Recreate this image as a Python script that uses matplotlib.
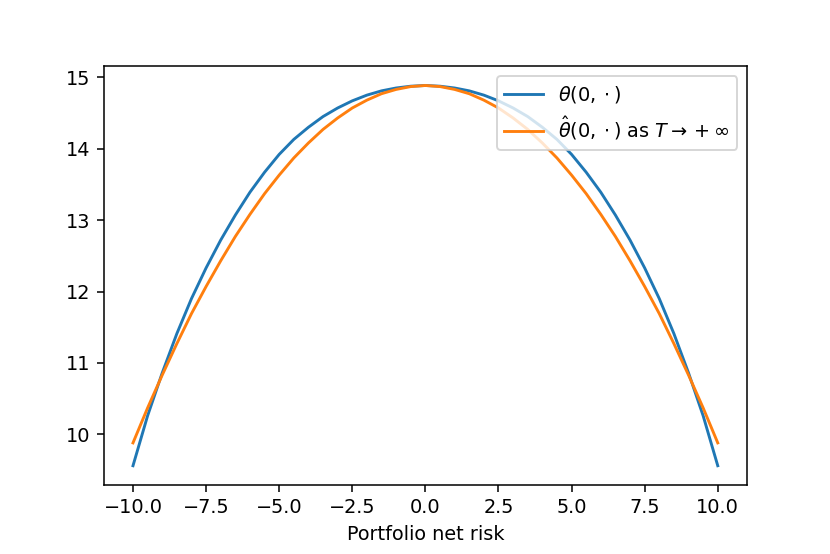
import numpy as np
import matplotlib
matplotlib.use("Agg")
import matplotlib.pyplot as plt

# net risk grid (every 0.5)
net_risk = [-10.0, -9.5, -9.0, -8.5, -8.0, -7.5, -7.0, -6.5, -6.0, -5.5, -5.0,
            -4.5, -4.0, -3.5, -3.0, -2.5, -2.0, -1.5, -1.0, -0.5, 0.0,
            0.5, 1.0, 1.5, 2.0, 2.5, 3.0, 3.5, 4.0, 4.5, 5.0,
            5.5, 6.0, 6.5, 7.0, 7.5, 8.0, 8.5, 9.0, 9.5, 10.0]

# theta(0, .)
theta = [9.56, 10.26, 10.86, 11.41, 11.90, 12.33, 12.72, 13.07, 13.39, 13.67, 13.92,
         14.13, 14.30, 14.45, 14.57, 14.67, 14.75, 14.81, 14.85, 14.875, 14.885,
         14.875, 14.85, 14.81, 14.75, 14.67, 14.57, 14.45, 14.30, 14.13, 13.92,
         13.67, 13.39, 13.07, 12.72, 12.33, 11.90, 11.41, 10.86, 10.26, 9.56]

# theta hat(0, .) as T -> +inf
theta_hat = [9.88, 10.37, 10.83, 11.27, 11.69, 12.07, 12.43, 12.77, 13.08, 13.37, 13.63,
             13.87, 14.08, 14.27, 14.43, 14.57, 14.68, 14.77, 14.83, 14.87, 14.885,
             14.87, 14.83, 14.77, 14.68, 14.57, 14.43, 14.27, 14.08, 13.87, 13.63,
             13.37, 13.08, 12.77, 12.43, 12.07, 11.69, 11.27, 10.83, 10.37, 9.88]

dpi = 138.33
fig, ax = plt.subplots(figsize=(830 / dpi, 554 / dpi), dpi=dpi)
fig.subplots_adjust(left=0.125, right=0.9, top=0.88, bottom=0.125)

ax.plot(net_risk, theta, label=r"$\theta(0, \cdot)$")
ax.plot(net_risk, theta_hat, label=r"$\hat{\theta}(0, \cdot)$ as $T \to +\infty$")

ax.set_xlabel("Portfolio net risk")
ax.legend(loc="upper right")

fig.savefig("out.png", dpi=dpi)
